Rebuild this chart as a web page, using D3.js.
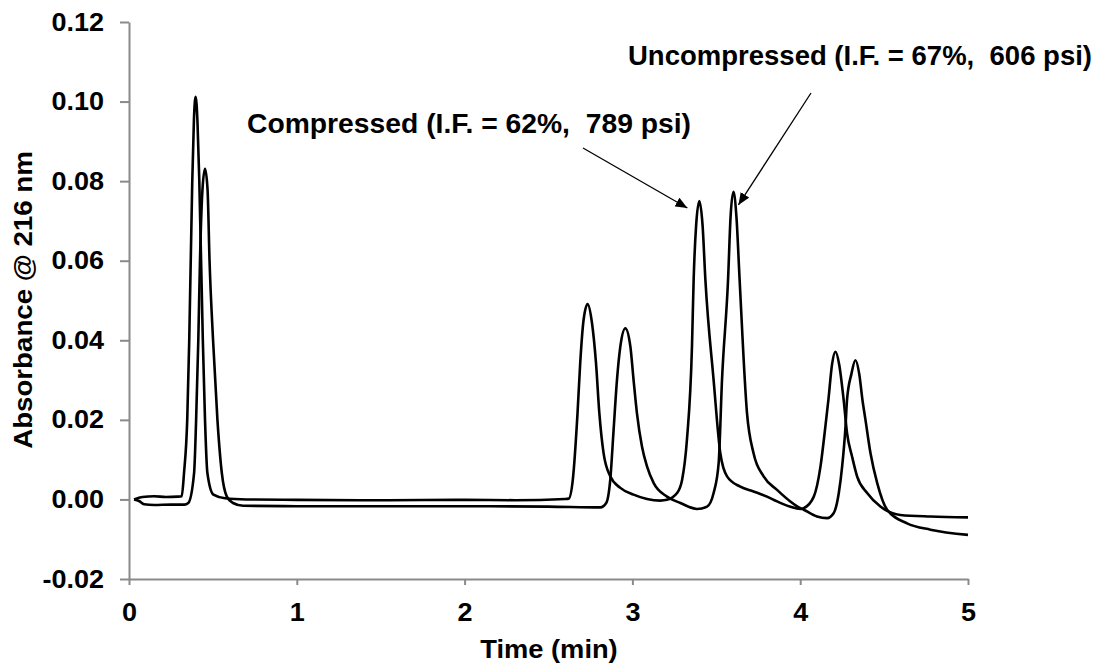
<!DOCTYPE html>
<html>
<head>
<meta charset="utf-8">
<script src="https://cdn.jsdelivr.net/npm/d3@7"></script>
<style>
  html, body { margin: 0; padding: 0; background: #fff; }
  svg { display: block; }
  text { font-family: "Liberation Sans", Arial, sans-serif; font-weight: bold; fill: #000; }
</style>
</head>
<body>
<svg id="chart" width="1097" height="666"></svg>
<script>
// Chromatogram traces: [time (min), absorbance @ 216 nm]
const compressed = [
  [0.030, 0.0000], [0.080, 0.0006], [0.150, 0.0008], [0.220, 0.0006], [0.290, 0.0007],
  [0.314, 0.0008], [0.328, 0.0067], [0.347, 0.0200], [0.359, 0.0400], [0.377, 0.0800],
  [0.387, 0.0955], [0.397, 0.1012], [0.408, 0.0950], [0.419, 0.0800], [0.440, 0.0400],
  [0.453, 0.0200], [0.467, 0.0067], [0.503, 0.0012], [0.572, 0.0003], [0.700, 0.0000],
  [1.000, -0.0001], [1.500, -0.0002], [2.000, -0.0001], [2.300, -0.0002], [2.600, 0.0001],
  [2.620, 0.0002], [2.645, 0.0050], [2.673, 0.0217], [2.689, 0.0343], [2.709, 0.0451],
  [2.733, 0.0491], [2.759, 0.0444], [2.783, 0.0343], [2.803, 0.0217], [2.828, 0.0117],
  [2.868, 0.0058], [2.928, 0.0029], [3.007, 0.0012], [3.087, 0.0001], [3.166, -0.0003],
  [3.206, -0.0001], [3.266, 0.0016], [3.296, 0.0049], [3.325, 0.0150], [3.355, 0.0384],
  [3.365, 0.0552], [3.380, 0.0690], [3.399, 0.0750], [3.418, 0.0690], [3.435, 0.0552],
  [3.484, 0.0300], [3.524, 0.0116], [3.564, 0.0058], [3.643, 0.0032], [3.722, 0.0020],
  [3.802, 0.0007], [3.862, -0.0005], [3.938, -0.0018], [4.001, -0.0024], [4.021, -0.0022],
  [4.081, 0.0007], [4.121, 0.0083], [4.150, 0.0183], [4.168, 0.0250], [4.190, 0.0340],
  [4.210, 0.0371], [4.232, 0.0340], [4.259, 0.0250], [4.279, 0.0167], [4.309, 0.0108],
  [4.339, 0.0058], [4.399, 0.0016], [4.478, -0.0018], [4.597, -0.0039], [4.776, -0.0043],
  [5.000, -0.0045]
];

const uncompressed = [
  [0.030, 0.0000], [0.060, -0.0004], [0.090, -0.0012], [0.150, -0.0014], [0.250, -0.0013],
  [0.330, -0.0013], [0.353, -0.0009], [0.388, 0.0067], [0.400, 0.0200], [0.413, 0.0400],
  [0.423, 0.0600], [0.438, 0.0780], [0.453, 0.0831], [0.468, 0.0780], [0.480, 0.0600],
  [0.501, 0.0400], [0.527, 0.0200], [0.553, 0.0067], [0.583, 0.0007], [0.620, -0.0009],
  [0.680, -0.0016], [1.000, -0.0017], [1.500, -0.0017], [2.000, -0.0017], [2.500, -0.0018],
  [2.809, -0.0020], [2.844, -0.0009], [2.868, 0.0049], [2.888, 0.0175], [2.908, 0.0300],
  [2.928, 0.0384], [2.958, 0.0430], [2.988, 0.0384], [3.007, 0.0300], [3.027, 0.0217],
  [3.057, 0.0133], [3.087, 0.0083], [3.127, 0.0041], [3.206, 0.0007], [3.286, -0.0009],
  [3.385, -0.0024], [3.445, -0.0018], [3.484, 0.0016], [3.514, 0.0091], [3.534, 0.0300],
  [3.570, 0.0552], [3.585, 0.0710], [3.602, 0.0773], [3.620, 0.0710], [3.639, 0.0552],
  [3.683, 0.0217], [3.722, 0.0116], [3.782, 0.0058], [3.862, 0.0024], [3.941, -0.0005],
  [4.001, -0.0022], [4.021, -0.0026], [4.100, -0.0043], [4.160, -0.0047], [4.200, -0.0034],
  [4.230, 0.0016], [4.250, 0.0083], [4.270, 0.0183], [4.279, 0.0250], [4.305, 0.0315],
  [4.329, 0.0350], [4.352, 0.0315], [4.371, 0.0250], [4.389, 0.0200], [4.419, 0.0116],
  [4.459, 0.0041], [4.518, -0.0026], [4.637, -0.0060], [4.776, -0.0076], [5.000, -0.0089]
];

const xTicks = [0, 1, 2, 3, 4, 5];
const xTickLabels = ["0", "1", "2", "3", "4", "5"];
const yTicks = [-0.02, 0.00, 0.02, 0.04, 0.06, 0.08, 0.10, 0.12];
const yTickLabels = ["-0.02", "0.00", "0.02", "0.04", "0.06", "0.08", "0.10", "0.12"];

const xTitle = "Time (min)";
const yTitle = "Absorbance @ 216 nm";

// Callouts: label text and the peak each arrow points at
const calloutTexts = ["Compressed (I.F. = 62%,  789 psi)", "Uncompressed (I.F. = 67%,  606 psi)"];
const calloutPeaks = [[3.399, 0.0750], [3.602, 0.0773]];

const svg = d3.select("#chart");
const x = d3.scaleLinear().domain([0, 5]).range([129, 968]);
const y = d3.scaleLinear().domain([-0.02, 0.12]).range([579, 22]);

const axisColor = "#8a8a8a";

// Widen bold glyphs slightly (the lettering is set wide)
function widen(sel, factor, origin) {
  sel.style("transform-box", "fill-box")
     .style("transform-origin", origin)
     .style("transform", `scaleX(${factor})`);
}

// Y axis
const yAxis = svg.append("g")
  .attr("transform", `translate(${x(0)},0)`)
  .call(d3.axisLeft(y).tickValues(yTicks)
    .tickFormat((d, i) => yTickLabels[i]).tickSize(9).tickSizeOuter(0).tickPadding(16));
// X axis
const xAxis = svg.append("g")
  .attr("transform", `translate(0,${y(-0.02)})`)
  .call(d3.axisBottom(x).tickValues(xTicks)
    .tickFormat((d, i) => xTickLabels[i]).tickSize(6).tickSizeOuter(0).tickPadding(18));

[yAxis, xAxis].forEach(g => {
  g.select(".domain").attr("stroke", axisColor).attr("stroke-width", 2);
  g.selectAll(".tick line").attr("stroke", axisColor).attr("stroke-width", 2);
  g.selectAll(".tick text")
    .attr("fill", "#000")
    .style("font-family", '"Liberation Sans", Arial, sans-serif')
    .style("font-weight", "bold")
    .style("font-size", "25px");
});
widen(yAxis.selectAll(".tick text"), 1.08, "right center");
widen(xAxis.selectAll(".tick text"), 1.08, "center center");

// Axis titles
const xt = svg.append("text")
  .attr("x", 549).attr("y", 658)
  .attr("text-anchor", "middle")
  .style("font-size", "26px")
  .text(xTitle);
widen(xt, 1.05, "center center");

const yt = svg.append("g")
  .attr("transform", "translate(32,300) rotate(-90)")
  .append("text")
  .attr("text-anchor", "middle")
  .style("font-size", "26px")
  .text(yTitle);
widen(yt, 1.065, "center center");

// Traces
const line = d3.line()
  .x(d => x(d[0]))
  .y(d => y(d[1]))
  .curve(d3.curveMonotoneX);

[compressed, uncompressed].forEach(series => {
  svg.append("path")
    .datum(series)
    .attr("fill", "none")
    .attr("stroke", "#000")
    .attr("stroke-width", 2.6)
    .attr("stroke-linejoin", "round")
    .attr("d", line);
});

// Arrowhead marker
svg.append("defs").append("marker")
  .attr("id", "arrowhead")
  .attr("viewBox", "0 0 12 10")
  .attr("refX", 12).attr("refY", 5)
  .attr("markerWidth", 12).attr("markerHeight", 10)
  .attr("markerUnits", "userSpaceOnUse")
  .attr("orient", "auto")
  .append("path")
  .attr("d", "M0,0 L12,5 L0,10 Z")
  .attr("fill", "#000");

// Callout labels (set to fixed widths)
const labelPos = [[247, 133], [628, 65]];
const labelWidths = [444, 464];
calloutTexts.forEach((t, i) => {
  svg.append("text")
    .attr("x", labelPos[i][0]).attr("y", labelPos[i][1])
    .attr("textLength", labelWidths[i])
    .attr("lengthAdjust", "spacingAndGlyphs")
    .style("font-size", "27px")
    .style("white-space", "pre")
    .text(t);
});

// Arrows from labels to the peaks
const arrowStarts = [[583, 148], [811, 93]];
const tipOffsets = [[-12, 7], [5, 13]];
calloutPeaks.forEach((p, i) => {
  svg.append("line")
    .attr("x1", arrowStarts[i][0]).attr("y1", arrowStarts[i][1])
    .attr("x2", x(p[0]) + tipOffsets[i][0])
    .attr("y2", y(p[1]) + tipOffsets[i][1])
    .attr("stroke", "#000")
    .attr("stroke-width", 1.3)
    .attr("marker-end", "url(#arrowhead)");
});
</script>
</body>
</html>
